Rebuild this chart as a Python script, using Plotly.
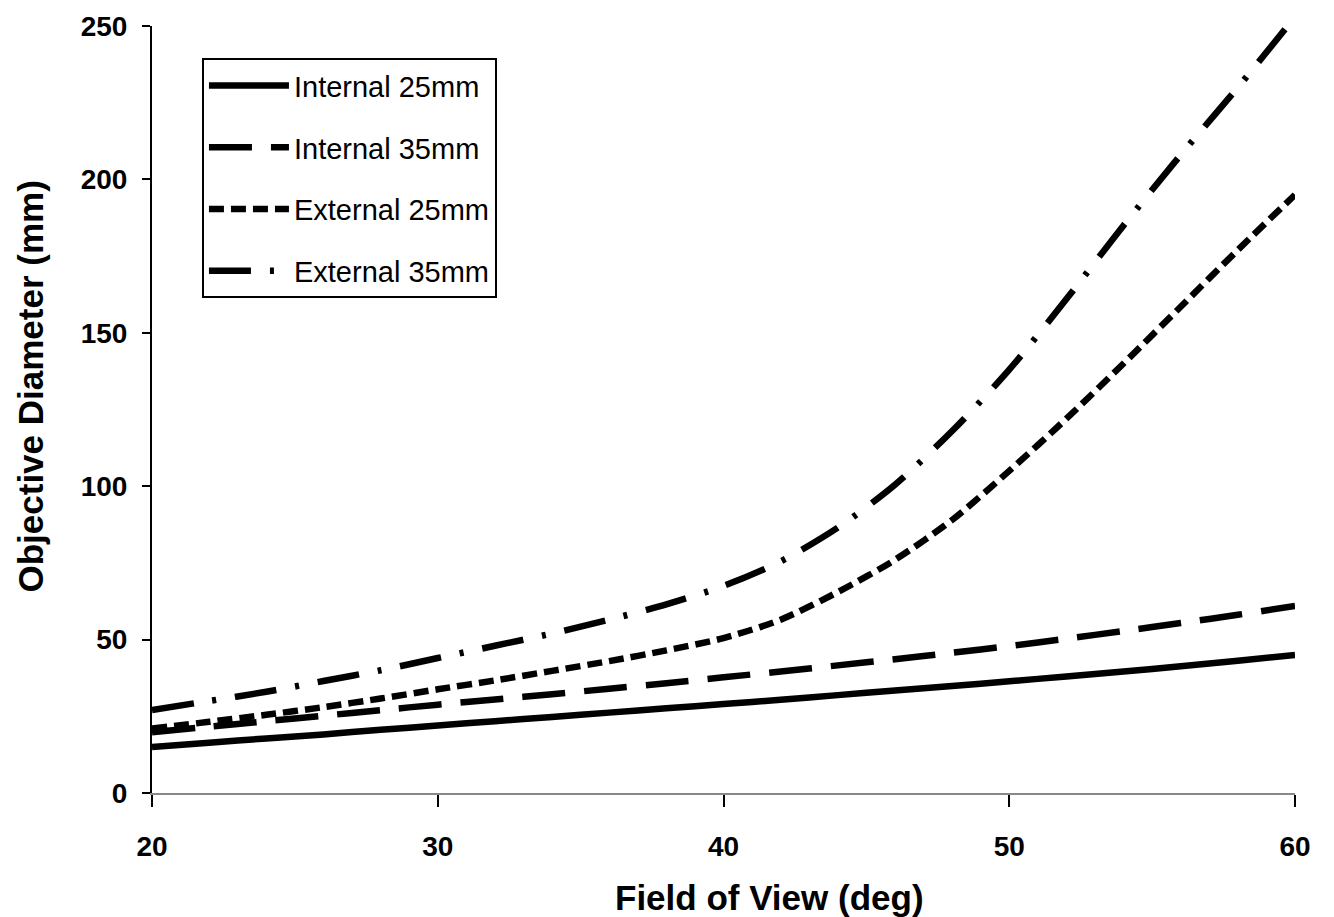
import plotly.graph_objects as go

fov = [20, 22, 24, 26, 28, 30, 32, 34, 36, 38, 40, 42, 44, 46, 48, 50, 52, 54, 56, 58, 60]
internal_25 = [15.0, 16.4, 17.8, 19.1, 20.6, 22.0, 23.4, 24.8, 26.2, 27.6, 29.0, 30.4, 31.9, 33.4, 34.9, 36.4, 38.0, 39.6, 41.3, 43.1, 45.0]
internal_35 = [19.8, 21.6, 23.4, 25.2, 27.0, 28.8, 30.5, 32.2, 34.0, 35.8, 37.7, 39.6, 41.6, 43.6, 45.7, 47.9, 50.3, 52.8, 55.4, 58.1, 61.0]
external_25 = [21.0, 23.2, 25.5, 28.0, 30.8, 33.8, 36.7, 39.8, 43.0, 46.5, 50.5, 56.5, 65.5, 76.0, 89.0, 105.0, 122.0, 140.0, 158.5, 177.0, 195.0]
external_35 = [27.0, 30.0, 33.0, 36.5, 40.0, 44.0, 48.0, 52.0, 56.5, 61.5, 67.5, 75.5, 86.5, 100.5, 118.0, 138.0, 161.0, 185.0, 208.0, 230.0, 253.0]

series_names = ["Internal 25mm", "Internal 35mm", "External 25mm", "External 35mm"]
series_values = [internal_25, internal_35, external_25, external_35]
dashes = ["solid", "43px,19px", "15px,7px", "42px,19px,4px,19px"]

x_ticks = [20, 30, 40, 50, 60]
y_ticks = [0, 50, 100, 150, 200, 250]
x_title = "Field of View (deg)"
y_title = "Objective Diameter (mm)"

fig = go.Figure()
for name, vals, dash in zip(series_names, series_values, dashes):
    fig.add_trace(go.Scatter(
        x=fov, y=vals, name=name, mode="lines", legendgroup=name,
        line=dict(color="black", width=6.5, dash=dash, shape="spline", smoothing=0.8),
    ))

tick_font = dict(family="Arial", size=28, color="black", weight="bold")

fig.update_layout(
    width=1326, height=909,
    margin=dict(l=144, r=39, t=18, b=124, autoexpand=False),
    paper_bgcolor="white", plot_bgcolor="white",
    showlegend=True,
    legend=dict(
        x=0.0437, y=0.958, xanchor="left", yanchor="top",
        bgcolor="white", bordercolor="black", borderwidth=2,
        font=dict(family="Arial", size=29, color="black"),
        tracegroupgap=21, itemwidth=80,
    ),
    xaxis=dict(
        range=[20, 60], tickvals=x_ticks, showgrid=False, zeroline=False,
        showline=True, linecolor="#888888", linewidth=2,
        ticks="outside", ticklen=12, tickwidth=2, tickcolor="black",
        tickfont=tick_font, ticklabelstandoff=15,
    ),
    yaxis=dict(
        range=[0, 250], tickvals=y_ticks, showgrid=False, zeroline=False,
        showline=True, linecolor="black", linewidth=2,
        ticks="outside", ticklen=8, tickwidth=2, tickcolor="black",
        tickfont=tick_font, ticklabelstandoff=9,
    ),
    annotations=[
        dict(text=x_title, xref="paper", yref="paper", x=0.540, y=-0.1356,
             xanchor="center", yanchor="middle", showarrow=False,
             font=dict(family="Arial", size=35, color="black", weight="bold")),
        dict(text=y_title, xref="paper", yref="paper", x=-0.1067, y=0.530,
             xanchor="center", yanchor="middle", showarrow=False, textangle=-90,
             font=dict(family="Arial", size=35, color="black", weight="bold")),
    ],
)

fig.write_html("out.html")
